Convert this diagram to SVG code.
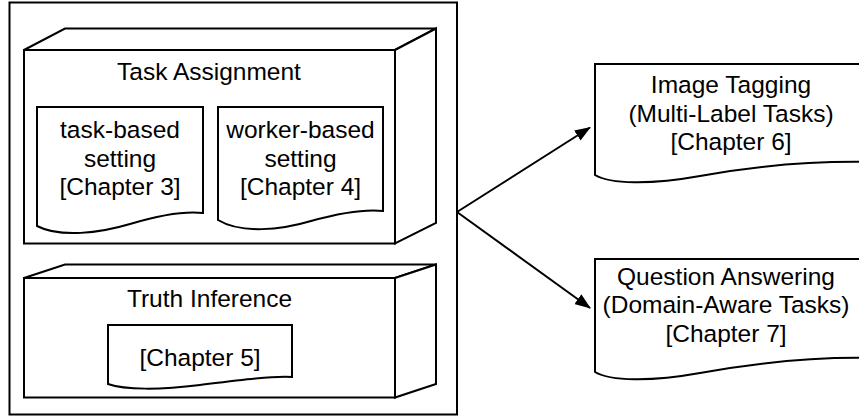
<svg xmlns="http://www.w3.org/2000/svg" width="859" height="417" viewBox="0 0 859 417">
  <defs>
    <marker id="arrowhead" viewBox="0 0 16 12" refX="15" refY="6" markerWidth="16" markerHeight="12" markerUnits="userSpaceOnUse" orient="auto">
      <path d="M0,0 L16,6 L0,12 Z" fill="#000"/>
    </marker>
  </defs>
  <style>
    .shape { fill: #fff; stroke: #000; stroke-width: 2; stroke-linejoin: miter; }
    .label { font-family: "Liberation Sans", Arial, Helvetica, sans-serif; font-size: 24.5px; fill: #000; text-anchor: middle; }
    .edge { fill: none; stroke: #000; stroke-width: 2; }
  </style>

  <rect width="859" height="417" fill="#fff"/>

  <!-- outer frame -->
  <g id="system">
    <rect class="shape" x="9.5" y="2.5" width="447.5" height="412"/>
  </g>

  <!-- Task Assignment block -->
  <g id="task-assignment">
    <path class="shape" d="M24,50 L65,28.5 L436,28.5 L395,50 Z"/>
    <path class="shape" d="M395,50 L436,28.5 L436,223 L395,243.5 Z"/>
    <rect class="shape" x="24" y="50" width="371" height="193.5"/>
    <text class="label" x="209" y="80">Task Assignment</text>
  </g>

  <g id="task-based">
    <path class="shape" d="M37,107 H203 V213 C185,211 160,215 130,224 C100,233 60,238 37,226 Z"/>
    <text class="label" x="120" y="138">task-based</text>
    <text class="label" x="120" y="166.5">setting</text>
    <text class="label" x="120" y="195">[Chapter 3]</text>
  </g>

  <g id="worker-based">
    <path class="shape" d="M218,107 H383 V211 C365,209 340,213 311,221 C281,230 241,234 218,220 Z"/>
    <text class="label" x="300.5" y="138">worker-based</text>
    <text class="label" x="300.5" y="166.5">setting</text>
    <text class="label" x="300.5" y="195">[Chapter 4]</text>
  </g>

  <!-- Truth Inference block -->
  <g id="truth-inference">
    <path class="shape" d="M24,278 L65,264.5 L436,264.5 L395,278 Z"/>
    <path class="shape" d="M395,278 L436,264.5 L436,384 L395,397.5 Z"/>
    <rect class="shape" x="24" y="278" width="371" height="119.5"/>
    <text class="label" x="209.5" y="306.5">Truth Inference</text>
  </g>

  <g id="chapter-5">
    <path class="shape" d="M108,325 H292 V377 C270,376 240,380 200,385 C160,390 125,390 108,384 Z"/>
    <text class="label" x="200" y="366">[Chapter 5]</text>
  </g>

  <!-- applications -->
  <g id="image-tagging">
    <path class="shape" d="M595,64 H872 V162 C820,161 760,165 700,176 C650,185 610,184 595,175 Z"/>
    <text class="label" x="731" y="93">Image Tagging</text>
    <text class="label" x="731" y="122">(Multi-Label Tasks)</text>
    <text class="label" x="731" y="150">[Chapter 6]</text>
  </g>

  <g id="question-answering">
    <path class="shape" d="M595,259 H872 V358 C820,357 760,362 700,373 C650,382 610,381 595,372 Z"/>
    <text class="label" x="726" y="285">Question Answering</text>
    <text class="label" x="726" y="313">(Domain-Aware Tasks)</text>
    <text class="label" x="726" y="342">[Chapter 7]</text>
  </g>

  <!-- connectors -->
  <g id="connectors">
    <path class="edge" d="M457,212 L590,127.5" marker-end="url(#arrowhead)"/>
    <path class="edge" d="M457,212 L590,308" marker-end="url(#arrowhead)"/>
  </g>
</svg>
